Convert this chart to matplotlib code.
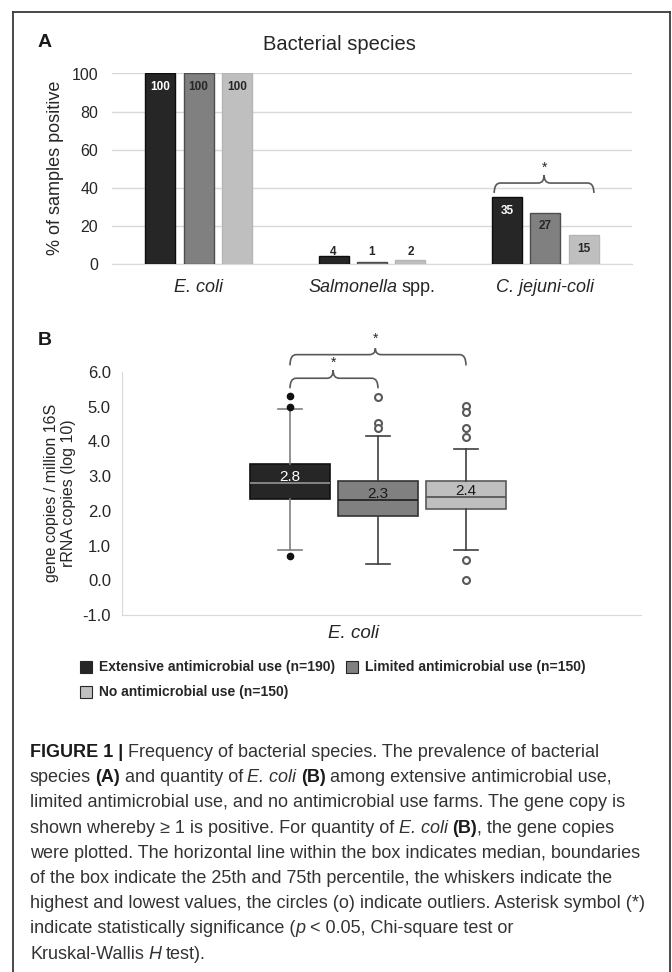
import numpy as np
import matplotlib
matplotlib.use('Agg')
import matplotlib.pyplot as plt
from matplotlib.lines import Line2D
from matplotlib.patches import Rectangle, PathPatch
from matplotlib.path import Path

plt.rcParams['font.family'] = ['Liberation Sans', 'DejaVu Sans']
plt.rcParams['axes.unicode_minus'] = False

W, H = 672, 972

# --- panel A: share of samples positive per species (%) ---
species = ['E. coli', 'Salmonella spp.', 'C. jejuni-coli']
groups = ['Extensive antimicrobial use (n=190)',
          'Limited antimicrobial use (n=150)',
          'No antimicrobial use (n=150)']
pct_extensive = [100, 4, 35]
pct_limited = [100, 1, 27]
pct_none = [100, 2, 15]
a_ticks = [0, 20, 40, 60, 80, 100]

# --- panel B: E. coli gene copies / million 16S rRNA copies (log10) ---
box_q1 = [2.35, 1.85, 2.05]
box_median = [2.8, 2.3, 2.4]
box_q3 = [3.35, 2.85, 2.85]
whisker_low = [0.86, 0.47, 0.88]
whisker_high = [4.92, 4.17, 3.79]
outliers_extensive = [5.30, 4.98, 0.69]
outliers_limited = [5.27, 4.53, 4.38]
outliers_none = [5.02, 4.85, 4.38, 4.14, 0.58, 0.0]
b_ticks = [-1, 0, 1, 2, 3, 4, 5, 6]

FILL = ['#262626', '#808080', '#bfbfbf']
EDGE = ['#0d0d0d', '#4d4d4d', '#b5b5b5']
TXT = '#262626'


def px_rect(x0, y0, x1, y1):
    # pixel box (top-left origin) -> figure fraction rect
    return [x0 / W, 1 - y1 / H, (x1 - x0) / W, (y1 - y0) / H]


fig = plt.figure(figsize=(W / 100, H / 100), dpi=100)
renderer = fig.canvas.get_renderer()


def space_width(**kw):
    t1 = fig.text(0, 0, '| |', **kw)
    t2 = fig.text(0, 0, '||', **kw)
    w = t1.get_window_extent(renderer).width - t2.get_window_extent(renderer).width
    t1.remove()
    t2.remove()
    return w


def rich_line(x, y, parts, ha='left'):
    """Chain differently styled pieces on one baseline (pixel coords)."""
    items = []
    pending_gap = False
    for s, st in parts:
        core = s.strip()
        if s[:1].isspace():
            pending_gap = True
        if core:
            t = fig.text(0, 1 - y / H, core, ha='left', va='baseline', **st)
            w = t.get_window_extent(renderer).width
            if not items:
                gap = 0
            elif pending_gap:
                gap = space_width(**st) - 0.6
            else:
                gap = 0.4
            items.append((t, w, gap))
            pending_gap = False
        if s[-1:].isspace():
            pending_gap = True
    total = sum(w + g for _, w, g in items)
    if ha == 'center':
        x -= total / 2
    for t, w, g in items:
        x += g
        t.set_x(x / W)
        x += w


def brace(ax, x0, x1, xm, y, drop, peak, rx, color='#595959'):
    verts = [(x0, y - drop), (x0, y), (x0 + rx, y),
             (xm - rx, y),
             (xm, y), (xm, y + peak),
             (xm, y), (xm + rx, y),
             (x1 - rx, y),
             (x1, y), (x1, y - drop)]
    codes = [Path.MOVETO, Path.CURVE3, Path.CURVE3,
             Path.LINETO,
             Path.CURVE3, Path.CURVE3,
             Path.CURVE3, Path.CURVE3,
             Path.LINETO,
             Path.CURVE3, Path.CURVE3]
    ax.add_patch(PathPatch(Path(verts, codes), facecolor='none', edgecolor=color,
                           lw=1.2, clip_on=False, zorder=5))


# outer frame
frame = dict(transform=fig.transFigure, color='#3a3a3a', lw=1.3)
fig.add_artist(Line2D([13 / W, 13 / W], [0, 1 - 12 / H], **frame))
fig.add_artist(Line2D([13 / W, 670 / W], [1 - 12 / H, 1 - 12 / H], **frame))
fig.add_artist(Line2D([670 / W, 670 / W], [0, 1 - 12 / H], **frame))

# ================= Panel A =================
axA = fig.add_axes(px_rect(112, 73.5, 632, 264))
x = np.arange(len(species))
offsets = [-0.222, 0.0, 0.222]
for k, vals in enumerate([pct_extensive, pct_limited, pct_none]):
    axA.bar(x + offsets[k], vals, width=0.173, color=FILL[k], edgecolor=EDGE[k],
            linewidth=1, zorder=3)
    for xi, v in zip(x + offsets[k], vals):
        inside = v >= 10
        ylab = v - 7.3 if inside else 6.3
        col = 'white' if (inside and k == 0) else TXT
        axA.text(xi, ylab, f'{v}', ha='center', va='center', fontsize=8.5,
                 fontweight='bold', color=col, zorder=4)

axA.set_xlim(-0.5, 2.5)
axA.set_ylim(0, 100)
axA.set_yticks(a_ticks)
axA.set_xticks([])
axA.yaxis.grid(True, color='#d9d9d9', lw=1)
axA.set_axisbelow(True)
for s in ['top', 'right', 'left']:
    axA.spines[s].set_visible(False)
axA.spines['bottom'].set_color('#d9d9d9')
axA.tick_params(axis='y', length=0, labelsize=11.5, labelcolor=TXT, pad=10)

brace(axA, 1.705, 2.28, 1.993, 42.5, 5.2, 4.2, 0.035)
axA.text(1.993, 48.3, '*', ha='center', va='baseline', fontsize=10, color=TXT)

fig.text(45 / W, 1 - 47 / H, 'A', fontsize=14, fontweight='bold', color='#1a1a1a',
         ha='center', va='baseline')
fig.text(339 / W, 1 - 44 / H, 'Bacterial species', fontsize=14.5, color=TXT,
         ha='center', va='center')
fig.text(56 / W, 1 - 168 / H, '% of samples positive', rotation=90, fontsize=13,
         color=TXT, ha='center', va='center')

ital13 = dict(size=13, style='italic', color=TXT)
reg13 = dict(size=13, color=TXT)
cat_parts = [[('E. coli', ital13)],
             [('Salmonella', ital13), (' spp.', reg13)],
             [('C. jejuni-coli', ital13)]]
for i, parts in enumerate(cat_parts):
    rich_line(112 + (i + 0.5) * 520 / 3, 292, parts, ha='center')

# ================= Panel B =================
axB = fig.add_axes(px_rect(122, 372, 641, 615))
positions = [1, 2, 3]
fliers = [outliers_extensive, outliers_limited, outliers_none]
stats = [dict(med=box_median[i], q1=box_q1[i], q3=box_q3[i],
              whislo=whisker_low[i], whishi=whisker_high[i], fliers=fliers[i])
         for i in range(3)]
bp = axB.bxp(stats, positions=positions, widths=0.9, capwidths=0.27,
             patch_artist=True, showfliers=True)

box_edge = ['#111111', '#333333', '#595959']
med_col = ['#8c8c8c', '#262626', '#595959']
whisk_col = ['#7f7f7f', '#404040', '#404040']
for i in range(3):
    bp['boxes'][i].set(facecolor=FILL[i], edgecolor=box_edge[i], linewidth=1.2)
    bp['medians'][i].set(color=med_col[i], linewidth=1.3)
    for j in (2 * i, 2 * i + 1):
        bp['whiskers'][j].set(color=whisk_col[i], linewidth=1.2)
        bp['caps'][j].set(color=whisk_col[i], linewidth=1.2)
    if i == 0:
        bp['fliers'][i].set(marker='o', markerfacecolor='#111111',
                            markeredgecolor='#111111', markersize=4.5)
    else:
        bp['fliers'][i].set(marker='o', markerfacecolor='white',
                            markeredgecolor='#595959', markeredgewidth=1.5,
                            markersize=5)
    axB.text(positions[i], box_median[i] + 0.18, f'{box_median[i]:.1f}',
             ha='center', va='center', fontsize=11,
             color='white' if i == 0 else '#1a1a1a', zorder=6)

axB.set_xlim(-0.909, 4.989)
axB.set_ylim(-1, 6)
axB.set_yticks(b_ticks)
axB.set_yticklabels([f'{v:.1f}' for v in b_ticks])
axB.set_xticks([])
for s in ['top', 'right']:
    axB.spines[s].set_visible(False)
for s in ['left', 'bottom']:
    axB.spines[s].set_color('#d9d9d9')
axB.tick_params(axis='y', length=0, labelsize=12, labelcolor=TXT, pad=8)

brace(axB, 1.0, 3.0, 1.97, 6.50, 0.31, 0.18, 0.07)
axB.text(1.97, 6.83, '*', ha='center', va='baseline', fontsize=10, color=TXT,
         clip_on=False)
brace(axB, 1.0, 2.0, 1.49, 5.82, 0.29, 0.23, 0.07)
axB.text(1.49, 6.14, '*', ha='center', va='baseline', fontsize=10, color=TXT,
         clip_on=False)

fig.text(45 / W, 1 - 345 / H, 'B', fontsize=14, fontweight='bold', color='#1a1a1a',
         ha='center', va='baseline')
fig.text(52 / W, 1 - 493 / H, 'gene copies / million 16S', rotation=90,
         fontsize=11.5, color=TXT, ha='center', va='center')
fig.text(69 / W, 1 - 493 / H, 'rRNA copies (log 10)', rotation=90,
         fontsize=11.5, color=TXT, ha='center', va='center')
fig.text(354 / W, 1 - 633 / H, 'E. coli', fontsize=13.5, style='italic', color=TXT,
         ha='center', va='center')

# legend
legend_pos = [(80, 667), (346, 667), (80, 692)]
for k, (lx, ly) in enumerate(legend_pos):
    fig.add_artist(Rectangle((lx / W, 1 - (ly + 6) / H), 12 / W, 12 / H,
                             transform=fig.transFigure, facecolor=FILL[k],
                             edgecolor='#262626', lw=0.8))
    fig.text((lx + 19) / W, 1 - ly / H, groups[k], fontsize=10, fontweight='bold',
             color=TXT, ha='left', va='center')

# ================= caption =================
n = dict(size=13, color='#333333')
b = dict(size=13, color='#1a1a1a', weight='bold')
it = dict(size=13, color='#333333', style='italic')
caption = [
    [('FIGURE 1 |', b), (' Frequency of bacterial species. The prevalence of bacterial', n)],
    [('species ', n), ('(A)', b), (' and quantity of ', n), ('E. coli', it), (' ', n),
     ('(B)', b), (' among extensive antimicrobial use,', n)],
    [('limited antimicrobial use, and no antimicrobial use farms. The gene copy is', n)],
    [('shown whereby \u2265 1 is positive. For quantity of ', n), ('E. coli', it), (' ', n),
     ('(B)', b), (', the gene copies', n)],
    [('were plotted. The horizontal line within the box indicates median, boundaries', n)],
    [('of the box indicate the 25th and 75th percentile, the whiskers indicate the', n)],
    [('highest and lowest values, the circles (o) indicate outliers. Asterisk symbol (*)', n)],
    [('indicate statistically significance (', n), ('p', it), (' < 0.05, Chi-square test or', n)],
    [('Kruskal-Wallis ', n), ('H', it), (' test).', n)],
]
for i, parts in enumerate(caption):
    rich_line(30, 757 + i * 25.2, parts)

fig.savefig('out.png', dpi=100)
